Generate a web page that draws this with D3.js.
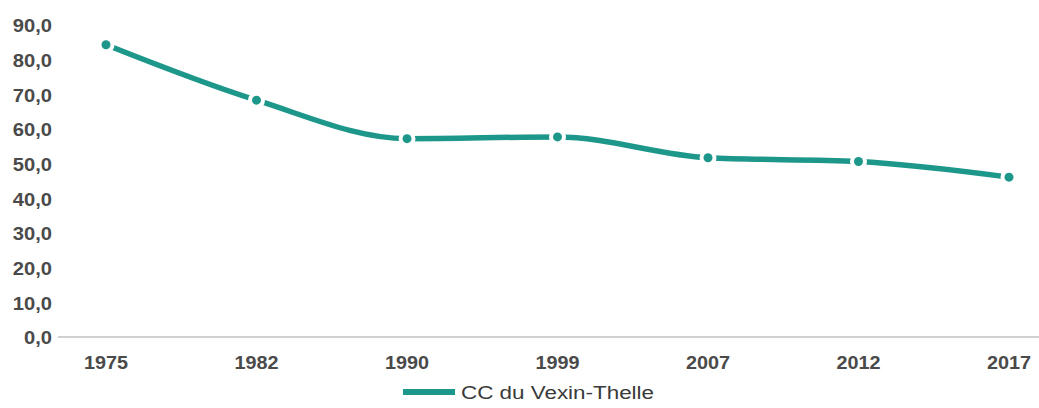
<!DOCTYPE html>
<html><head><meta charset="utf-8">
<script src="https://cdn.jsdelivr.net/npm/d3@7"></script>
<style>body{margin:0;background:#fff}svg{display:block}</style>
</head><body>
<svg id="c" width="1039" height="408"></svg>
<script>
const years = ["1975","1982","1990","1999","2007","2012","2017"];
const values = [84.6, 68.6, 57.5, 58.0, 52.0, 50.9, 46.4];
const yTicks = [0,10,20,30,40,50,60,70,80,90];
const seriesName = "CC du Vexin-Thelle";

const svg = d3.select("#c");
const color = "#1e978b";
const x = d3.scalePoint().domain(years).range([106, 1009]);
const y = d3.scaleLinear().domain([0, 90]).range([338, 26]);
const fmt = d => d3.format(".1f")(d).replace(".", ",");

// baseline
svg.append("line").attr("x1", 58).attr("x2", 1039).attr("y1", y(0) - 1).attr("y2", y(0) - 1)
  .attr("stroke", "#d0d0d0").attr("stroke-width", 2);

// y labels
svg.append("g").selectAll("text").data(yTicks).join("text")
  .attr("transform", d => `translate(52,${y(d)}) scale(1.12,1)`)
  .attr("text-anchor", "end").attr("dy", "0.36em")
  .attr("font-family", "Liberation Sans, Arial, sans-serif").attr("font-weight", "bold")
  .attr("font-size", 18).attr("fill", "#4a4a4a").text(fmt);

// x labels
svg.append("g").selectAll("text").data(years).join("text")
  .attr("transform", d => `translate(${x(d)},363) scale(1.1,1)`)
  .attr("text-anchor", "middle").attr("dy", "0.36em")
  .attr("font-family", "Liberation Sans, Arial, sans-serif").attr("font-weight", "bold")
  .attr("font-size", 18).attr("fill", "#4a4a4a").text(d => d);

const data = years.map((yr, i) => ({yr, v: values[i]}));
const line = d3.line().x(d => x(d.yr)).y(d => y(d.v)).curve(d3.curveMonotoneX);
svg.append("path").datum(data).attr("d", line).attr("fill", "none")
  .attr("stroke", color).attr("stroke-width", 5.5).attr("stroke-linecap", "round");

svg.append("g").selectAll("circle").data(data).join("circle")
  .attr("cx", d => x(d.yr)).attr("cy", d => y(d.v)).attr("r", 4.5)
  .attr("fill", color).attr("stroke", "#fff").attr("stroke-width", 8).attr("paint-order", "stroke");

// legend
svg.append("line").attr("x1", 403).attr("x2", 455).attr("y1", 392).attr("y2", 392)
  .attr("stroke", color).attr("stroke-width", 6);
svg.append("text").attr("transform", "translate(461,392) scale(1.18,1)").attr("dy", "0.36em")
  .attr("font-family", "Liberation Sans, Arial, sans-serif")
  .attr("font-size", 19).attr("fill", "#3a3a3a").text(seriesName);
</script>
</body></html>
